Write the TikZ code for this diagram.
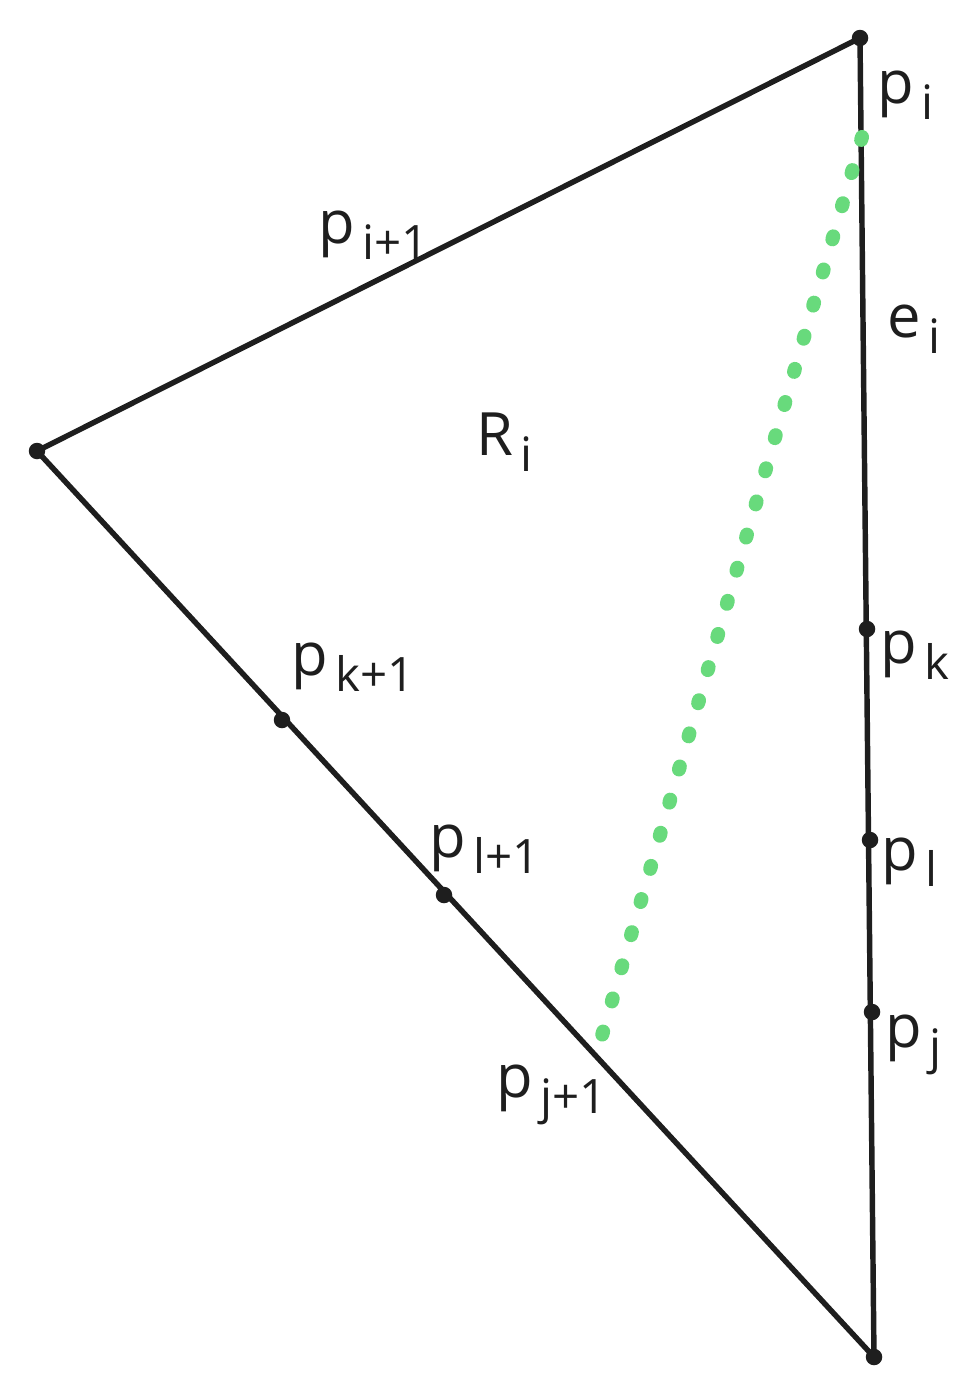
\documentclass[tikz,border=0pt]{standalone}
\usepackage{fontspec}
\setmainfont{Open Sans}
\usetikzlibrary{calc}

\definecolor{dotgreen}{RGB}{104,218,124}
\definecolor{edgegray}{RGB}{30,30,30}
\newcommand{\lsub}[1]{\hspace{0.12em}\raisebox{-9.5pt}{\fontsize{27}{30}\selectfont #1}}

\begin{document}
\begin{tikzpicture}[x=0.02cm,y=-0.02cm,
	lab/.style={anchor=base west,inner sep=0,text=edgegray,font=\fontsize{34}{40}\selectfont},
	edge/.style={draw=edgegray,line width=3.1pt,line join=round},
	dot/.style={fill=edgegray}]
\useasboundingbox (0,0) rectangle (969,1396);

% corners of the region
\coordinate (top) at (860,38);
\coordinate (left) at (37,451);
\coordinate (bot) at (874,1357);
% points on the edges
\coordinate (pk) at (867,629);
\coordinate (pl) at (870,840);
\coordinate (pj) at (872,1012);
\coordinate (pk1) at (282,720);
\coordinate (pl1) at (444,895);
% ends of the green line
\coordinate (g1) at (862,137);
\coordinate (g2) at ($(862,137)!1.004!(603,1032)$);

\draw[edge] (top) -- (left) -- (bot) -- cycle;
\draw[dotgreen,line width=8pt,line cap=round,dash pattern=on 0.06cm off 0.63cm] (g1) -- (g2);

\foreach \p in {top,left,bot,pk,pl,pj,pk1,pl1}
	\fill[dot] (\p) circle (0.165cm);

\node[lab] (lpi) at (877,103) {p\lsub{i}};
\node[lab] (lpi1) at (318,243) {p\lsub{i+1}};
\node[lab] (lei) at (887,337) {e\lsub{i}};
\node[lab] (lRi) at (476,455) {R\lsub{i}};
\node[lab] (lpk) at (880,663) {p\lsub{k}};
\node[lab] (lpk1) at (291,675) {p\lsub{k+1}};
\node[lab] (lpl1) at (429,857) {p\lsub{l+1}};
\node[lab] (lpl) at (881,870) {p\lsub{l}};
\node[lab] (lpj) at (885,1047) {p\lsub{j}};
\node[lab] (lpj1) at (496,1097) {p\lsub{j+1}};
\end{tikzpicture}
\end{document}
